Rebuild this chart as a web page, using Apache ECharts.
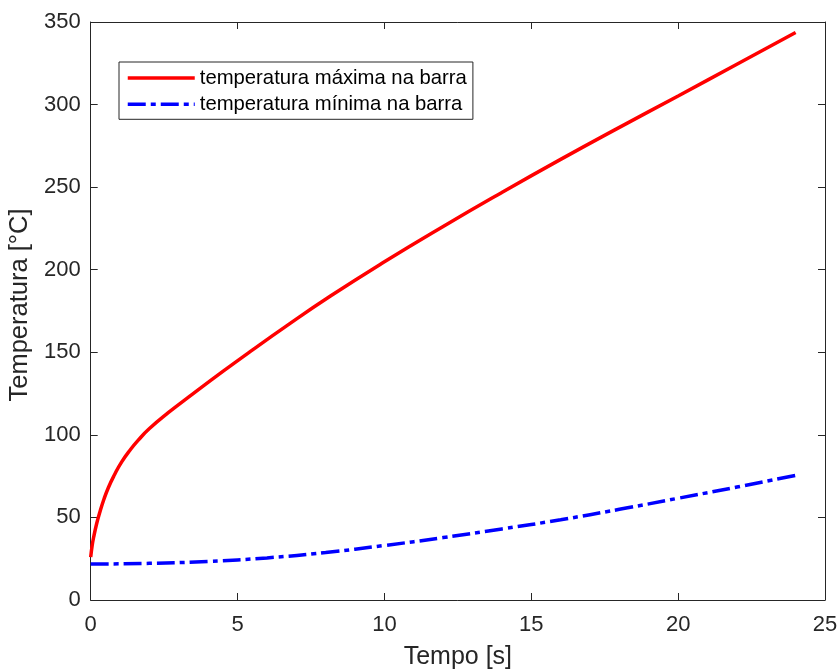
<!DOCTYPE html>
<html>
<head>
<meta charset="utf-8">
<script src="https://cdn.jsdelivr.net/npm/echarts@6/dist/echarts.min.js"></script>
<style>
html,body{margin:0;padding:0;background:#fff;}
#chart{width:839px;height:672px;}
</style>
</head>
<body>
<div id="chart"></div>
<script>
// Data
const seriesNames = ['temperatura máxima na barra', 'temperatura mínima na barra'];
const maxTime = [0, 0.05, 0.1, 0.2, 0.3, 0.45, 0.6, 0.8, 1.05, 1.35, 1.62, 2.0, 2.64, 3.5, 4.5, 5.5, 6.62, 8.15, 10, 12, 14, 16, 18, 20, 22, 24];
const maxTemp = [26, 33, 38, 46, 52.5, 61, 68, 75.5, 83.5, 91.0, 96.8, 103.8, 113.4, 125.1, 138.4, 151.3, 165.4, 183.9, 204.8, 226.2, 246.8, 266.8, 286.2, 305.2, 324.4, 343.6];
const minTime = [0, 2, 4, 6, 8, 10, 12, 14, 16, 18, 20, 22, 24];
const minTemp = [21.8, 22.2, 23.4, 25.5, 28.8, 33.0, 37.8, 43.0, 48.6, 54.9, 61.6, 68.4, 75.5];
const xTicks = [0, 5, 10, 15, 20, 25];
const yTicks = [0, 50, 100, 150, 200, 250, 300, 350];

const FONT = 'Liberation Sans, Arial, Helvetica, sans-serif';
const TXT = '#262626';

function pairs(xs, ys) { return xs.map((x, i) => [x, ys[i]]); }

const chart = echarts.init(document.getElementById('chart'), null, {renderer: 'canvas'});

const axisLine = {show: true, onZero: false, lineStyle: {color: TXT, width: 1}};
const axisTick = {show: true, inside: true, length: 7, lineStyle: {color: TXT, width: 1}};

const option = {
  animation: false,
  backgroundColor: '#ffffff',
  textStyle: {fontFamily: FONT},
  grid: {left: 90.7, top: 22, right: 14, bottom: 72, containLabel: false, outerBoundsMode: 'none'},
  legend: {
    orient: 'vertical',
    left: 119,
    top: 62,
    data: seriesNames,
    backgroundColor: '#ffffff',
    borderColor: TXT,
    borderWidth: 1,
    padding: [6, 6, 5, 7],
    itemWidth: 67,
    itemHeight: 20,
    itemGap: 6.3,
    itemStyle: {opacity: 0},
    lineStyle: {width: 3.5},
    textStyle: {fontSize: 20.3, color: '#000000', fontFamily: FONT, lineHeight: 20}
  },
  xAxis: [{
    type: 'value',
    position: 'bottom',
    min: xTicks[0],
    max: xTicks[xTicks.length - 1],
    interval: xTicks[1] - xTicks[0],
    axisLine: axisLine,
    axisTick: axisTick,
    splitLine: {show: false},
    axisLabel: {fontSize: 22, color: TXT, margin: 14, fontFamily: FONT},
    name: 'Tempo [s]',
    nameLocation: 'middle',
    nameGap: 45,
    nameTextStyle: {fontSize: 25, color: TXT, fontFamily: FONT}
  }, {
    type: 'value',
    position: 'top',
    min: xTicks[0],
    max: xTicks[xTicks.length - 1],
    interval: xTicks[1] - xTicks[0],
    axisLine: axisLine,
    axisTick: axisTick,
    splitLine: {show: false},
    axisLabel: {show: false}
  }],
  yAxis: [{
    type: 'value',
    position: 'left',
    min: yTicks[0],
    max: yTicks[yTicks.length - 1],
    interval: yTicks[1] - yTicks[0],
    axisLine: axisLine,
    axisTick: axisTick,
    splitLine: {show: false},
    axisLabel: {fontSize: 22, color: TXT, margin: 10, fontFamily: FONT},
    name: 'Temperatura [°C]',
    nameLocation: 'middle',
    nameGap: 52,
    nameTextStyle: {fontSize: 25.5, color: TXT, fontFamily: FONT, padding: [0, 0, 0, 12]}
  }, {
    type: 'value',
    position: 'right',
    min: yTicks[0],
    max: yTicks[yTicks.length - 1],
    interval: yTicks[1] - yTicks[0],
    axisLine: axisLine,
    axisTick: axisTick,
    splitLine: {show: false},
    axisLabel: {show: false}
  }],
  series: [{
    name: seriesNames[0],
    type: 'line',
    xAxisIndex: 0,
    yAxisIndex: 0,
    data: pairs(maxTime, maxTemp),
    smooth: 0.5,
    symbol: 'none',
    showSymbol: false,
    lineStyle: {color: '#ff0000', width: 3.5},
    itemStyle: {color: '#ff0000'}
  }, {
    name: seriesNames[1],
    type: 'line',
    xAxisIndex: 0,
    yAxisIndex: 0,
    data: pairs(minTime, minTemp),
    smooth: 0.5,
    symbol: 'none',
    showSymbol: false,
    lineStyle: {color: '#0000ff', width: 3.5, type: [18, 5, 5, 5]},
    itemStyle: {color: '#0000ff'}
  }]
};
chart.setOption(option);
</script>
</body>
</html>
